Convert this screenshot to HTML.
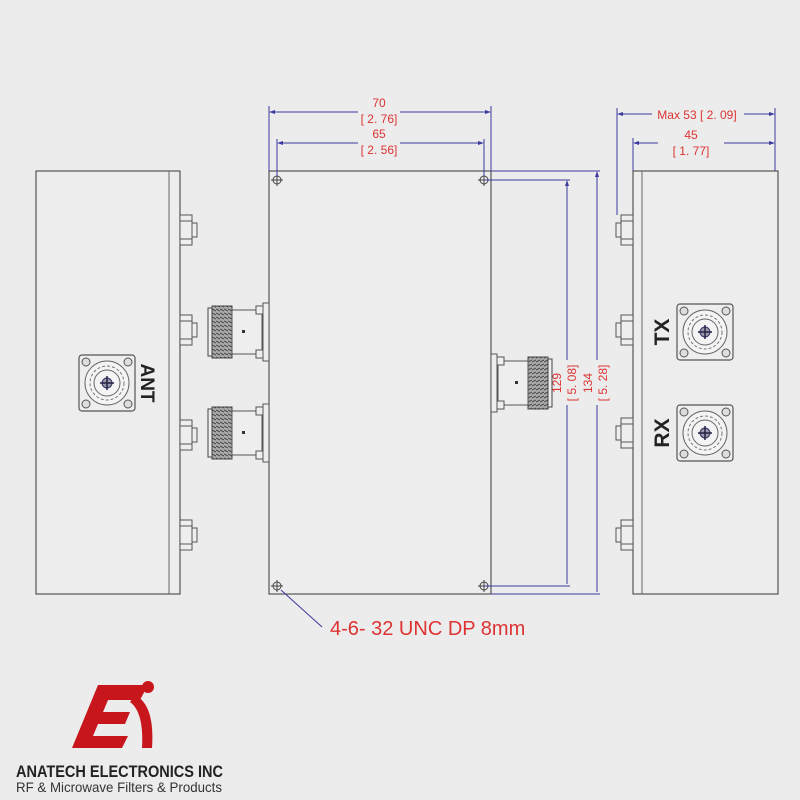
<!DOCTYPE html>
<html><head><style>body{margin:0;background:#ececec}svg{display:block}</style></head><body>
<svg width="800" height="800" viewBox="0 0 800 800" xmlns="http://www.w3.org/2000/svg" font-family="Liberation Sans, sans-serif">
<rect width="800" height="800" fill="#ececec"/>
<defs>
<g id="nutR"><rect x="0" y="-15" width="12" height="30" fill="#eee" stroke="#555"/><rect x="0" y="-9" width="12" height="18" fill="none" stroke="#555"/><rect x="12" y="-7" width="5" height="14" fill="#eee" stroke="#555"/></g>
<g id="sq"><rect x="-28" y="-28" width="56" height="56" rx="3" fill="#eee" stroke="#555" stroke-width="1.2"/><circle r="22" fill="#f4f4f4" stroke="#666"/><circle r="17" fill="none" stroke="#777" stroke-dasharray="3 2"/><circle r="13" fill="none" stroke="#666"/><circle r="5" fill="#99a" stroke="#336"/><path d="M-7 0H7M0-7V7" stroke="#224" stroke-width="1.5"/>
<circle cx="-21" cy="-21" r="4" fill="#ddd" stroke="#555"/><circle cx="21" cy="-21" r="4" fill="#ddd" stroke="#555"/><circle cx="-21" cy="21" r="4" fill="#ddd" stroke="#555"/><circle cx="21" cy="21" r="4" fill="#ddd" stroke="#555"/></g>
<pattern id="thr" width="4" height="4" patternUnits="userSpaceOnUse"><rect width="4" height="4" fill="#aaa"/><path d="M0 1L4 3" stroke="#444"/></pattern>
<g id="conL"><rect x="0" y="-24" width="4" height="48" fill="#eee" stroke="#444"/><rect x="4" y="-26" width="20" height="52" fill="url(#thr)" stroke="#444"/><rect x="24" y="-22" width="30" height="44" fill="#eee" stroke="#555"/><rect x="48" y="-26" width="7" height="8" fill="#eee" stroke="#555"/><rect x="48" y="18" width="7" height="8" fill="#eee" stroke="#555"/><rect x="55" y="-29" width="6" height="58" fill="#eee" stroke="#555"/><rect x="34" y="-2" width="3" height="3" fill="#333"/></g>
</defs>
<!-- left box -->
<rect x="36" y="171" width="144" height="423" fill="#ededed" stroke="#555" stroke-width="1.2"/>
<line x1="169" y1="171" x2="169" y2="594" stroke="#666"/>
<use href="#nutR" x="180" y="230"/><use href="#nutR" x="180" y="330"/><use href="#nutR" x="180" y="435"/><use href="#nutR" x="180" y="535"/>
<use href="#sq" x="107" y="383"/>
<text transform="translate(141,383) rotate(90)" text-anchor="middle" font-size="19" font-weight="bold" fill="#222">ANT</text>
<!-- center box -->
<rect x="269" y="171" width="222" height="423" fill="#ededed" stroke="#555" stroke-width="1.2"/>
<g stroke="#444" fill="none"><circle cx="277" cy="180" r="4"/><circle cx="484" cy="180" r="4"/><circle cx="277" cy="586" r="4"/><circle cx="484" cy="586" r="4"/>
<path d="M271 180h12M277 174v12M478 180h12M484 174v12M271 586h12M277 580v12M478 586h12M484 580v12"/></g>
<use href="#conL" x="208" y="332"/><use href="#conL" x="208" y="433"/>
<use href="#conL" transform="translate(552,383) scale(-1,1)"/>
<!-- dims -->
<g stroke="#3a3aa0" stroke-width="1" fill="none">
<path d="M269 171V106M491 171V106M277 176V139M484 176V139"/>
<path d="M271 112H358M400 112H489M279 143H358M400 143H482"/>
<path d="M491 171H600M484 180H570M491 594H600M484 586H570"/>
<path d="M567 182V360M567 405V584M597 173V360M597 405V592"/>
<path d="M633 171V138M775 171V108M617 215V108"/>
<path d="M619 114H652M744 114H773M635 143H658M724 143H773"/>
<path d="M281 590L322 627"/>
</g>
<g fill="#3a3aa0"><path d="M269 112l6-2v4zM491 112l-6-2v4zM277 143l6-2v4zM484 143l-6-2v4zM567 180l-2 6h4zM597 171l-2 6h4zM617 114l6-2v4zM775 114l-6-2v4zM633 143l6-2v4zM775 143l-6-2v4z"/></g>
<g fill="#d33" font-size="12" text-anchor="middle">
<text x="379" y="107">70</text><text x="379" y="123">[ 2. 76]</text>
<text x="379" y="138">65</text><text x="379" y="154">[ 2. 56]</text>
<text x="697" y="119">Max 53 [ 2. 09]</text>
<text x="691" y="139">45</text><text x="691" y="155">[ 1. 77]</text>
<text transform="translate(561,383) rotate(-90)">129</text>
<text transform="translate(576,383) rotate(-90)">[ 5. 08]</text>
<text transform="translate(592,383) rotate(-90)">134</text>
<text transform="translate(607,383) rotate(-90)">[ 5. 28]</text>
</g>
<text x="330" y="635" fill="#d33" font-size="20">4-6- 32 UNC DP 8mm</text>
<!-- right box -->
<rect x="633" y="171" width="145" height="423" fill="#ededed" stroke="#555" stroke-width="1.2"/>
<line x1="642" y1="171" x2="642" y2="594" stroke="#666"/>
<use href="#nutR" transform="translate(633,230) scale(-1,1)"/><use href="#nutR" transform="translate(633,330) scale(-1,1)"/><use href="#nutR" transform="translate(633,433) scale(-1,1)"/><use href="#nutR" transform="translate(633,535) scale(-1,1)"/>
<use href="#sq" x="705" y="332"/><use href="#sq" x="705" y="433"/>
<text transform="translate(669,332) rotate(-90)" text-anchor="middle" font-size="21" font-weight="bold" fill="#222">TX</text>
<text transform="translate(669,433) rotate(-90)" text-anchor="middle" font-size="21" font-weight="bold" fill="#222">RX</text>
<!-- logo -->
<path d="M98 685H148L140 700H108L103 712H130L125 724H98L93 736H128L122 748H72Z" fill="#c8161d"/>
<path d="M135 695Q155 705 152 748H142Q144 712 130 702Z" fill="#c8161d"/>
<circle cx="148" cy="687" r="6" fill="#c8161d"/>
<text x="16" y="777" font-size="17" font-weight="bold" fill="#222" textLength="207" lengthAdjust="spacingAndGlyphs">ANATECH ELECTRONICS INC</text>
<text x="16" y="792" font-size="14" fill="#333" textLength="206" lengthAdjust="spacingAndGlyphs">RF &amp; Microwave Filters &amp; Products</text>
</svg>
</body></html>
